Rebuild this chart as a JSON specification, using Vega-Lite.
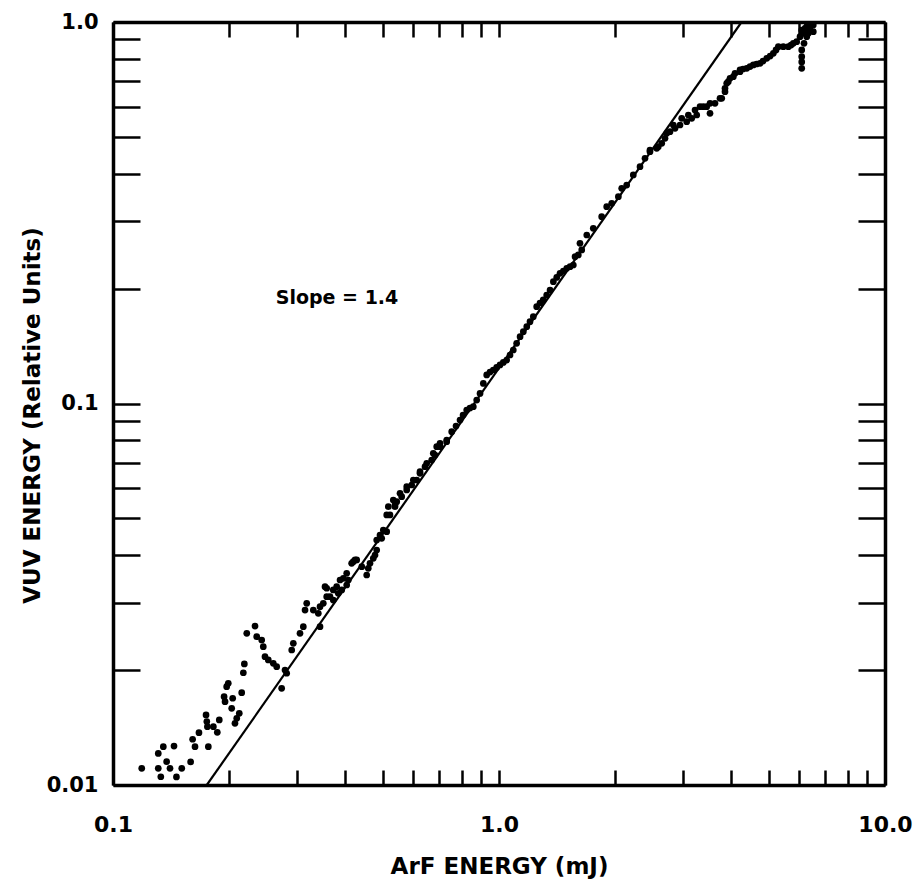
{
  "$schema": "https://vega.github.io/schema/vega-lite/v6.json",
  "width": 772,
  "height": 763,
  "autosize": {"type": "none"},
  "padding": {"left": 113, "top": 22, "right": 31, "bottom": 101},
  "background": "white",
  "config": {
    "view": {"stroke": null},
    "font": "DejaVu Sans",
    "axis": {
      "grid": false,
      "domainColor": "black",
      "tickColor": "black",
      "labelColor": "black",
      "titleColor": "black",
      "domainWidth": 3.5,
      "tickWidth": 2.5,
      "labelFont": "DejaVu Sans",
      "titleFont": "DejaVu Sans",
      "labelFontSize": 22,
      "labelFontWeight": "bold",
      "titleFontSize": 23,
      "titleFontWeight": "bold",
      "labelFlush": false,
      "labelOverlap": false,
      "labelBound": false
    }
  },
  "datasets": {
    "pts": [
      {"x": 0.1187, "y": 0.01106}, {"x": 0.131, "y": 0.01106}, {"x": 0.133, "y": 0.01051}, {"x": 0.146, "y": 0.0105},
      {"x": 0.1405, "y": 0.01106}, {"x": 0.1507, "y": 0.01106}, {"x": 0.1377, "y": 0.01151}, {"x": 0.131, "y": 0.0121},
      {"x": 0.135, "y": 0.0126}, {"x": 0.1439, "y": 0.01265}, {"x": 0.1589, "y": 0.0115}, {"x": 0.1608, "y": 0.01318},
      {"x": 0.1631, "y": 0.0126}, {"x": 0.167, "y": 0.01371}, {"x": 0.1766, "y": 0.0126}, {"x": 0.1742, "y": 0.01526},
      {"x": 0.175, "y": 0.01466}, {"x": 0.1756, "y": 0.01422}, {"x": 0.182, "y": 0.01422}, {"x": 0.1863, "y": 0.01374},
      {"x": 0.1885, "y": 0.01481}, {"x": 0.197, "y": 0.0181}, {"x": 0.194, "y": 0.01704}, {"x": 0.1951, "y": 0.01653},
      {"x": 0.1989, "y": 0.01848}, {"x": 0.2042, "y": 0.01688}, {"x": 0.203, "y": 0.01589}, {"x": 0.207, "y": 0.01451},
      {"x": 0.2092, "y": 0.01496}, {"x": 0.2124, "y": 0.01541}, {"x": 0.2155, "y": 0.01746}, {"x": 0.2176, "y": 0.01969},
      {"x": 0.2189, "y": 0.02076}, {"x": 0.2221, "y": 0.02498}, {"x": 0.2333, "y": 0.0261}, {"x": 0.2357, "y": 0.02448},
      {"x": 0.2428, "y": 0.02399}, {"x": 0.2451, "y": 0.02304}, {"x": 0.2476, "y": 0.02169}, {"x": 0.2525, "y": 0.02127},
      {"x": 0.2602, "y": 0.02084}, {"x": 0.2655, "y": 0.02042}, {"x": 0.2735, "y": 0.01792}, {"x": 0.279, "y": 0.02002},
      {"x": 0.2818, "y": 0.01963}, {"x": 0.2904, "y": 0.02259}, {"x": 0.2932, "y": 0.02352}, {"x": 0.3051, "y": 0.02498},
      {"x": 0.3112, "y": 0.026}, {"x": 0.3144, "y": 0.02875}, {"x": 0.3176, "y": 0.02994}, {"x": 0.3303, "y": 0.02875},
      {"x": 0.3403, "y": 0.02818}, {"x": 0.3438, "y": 0.026}, {"x": 0.3438, "y": 0.02934}, {"x": 0.3506, "y": 0.02994},
      {"x": 0.3578, "y": 0.03279}, {"x": 0.3649, "y": 0.03116}, {"x": 0.3721, "y": 0.03054}, {"x": 0.3834, "y": 0.03181},
      {"x": 0.3913, "y": 0.03245}, {"x": 0.4031, "y": 0.03344}, {"x": 0.407, "y": 0.03446}, {"x": 0.4193, "y": 0.03849},
      {"x": 0.4279, "y": 0.03889}, {"x": 0.4542, "y": 0.03552}, {"x": 0.4585, "y": 0.03698}, {"x": 0.4724, "y": 0.03929},
      {"x": 0.4821, "y": 0.0413}, {"x": 0.4967, "y": 0.04433}, {"x": 0.5118, "y": 0.04613}, {"x": 0.5219, "y": 0.05104},
      {"x": 0.5377, "y": 0.05418},
      {"x": 0.3542, "y": 0.03311}, {"x": 0.3578, "y": 0.03116}, {"x": 0.3721, "y": 0.03245}, {"x": 0.3797, "y": 0.03311},
      {"x": 0.3874, "y": 0.03446}, {"x": 0.3951, "y": 0.03482}, {"x": 0.4031, "y": 0.03588}, {"x": 0.4152, "y": 0.03812},
      {"x": 0.4237, "y": 0.03889}, {"x": 0.441, "y": 0.03735}, {"x": 0.4632, "y": 0.03812}, {"x": 0.4773, "y": 0.04007},
      {"x": 0.4821, "y": 0.04387}, {"x": 0.4917, "y": 0.04521}, {"x": 0.5015, "y": 0.0466}, {"x": 0.5118, "y": 0.05104},
      {"x": 0.5168, "y": 0.05364}, {"x": 0.5377, "y": 0.05364}, {"x": 0.5433, "y": 0.05528}, {"x": 0.5597, "y": 0.05697},
      {"x": 0.5767, "y": 0.05934}, {"x": 0.5941, "y": 0.06114}, {"x": 0.6121, "y": 0.06301}, {"x": 0.6243, "y": 0.06561},
      {"x": 0.6432, "y": 0.06828}, {"x": 0.6693, "y": 0.0711}, {"x": 0.6827, "y": 0.07328}, {"x": 0.6897, "y": 0.07705},
      {"x": 0.7034, "y": 0.07864}, {"x": 0.732, "y": 0.0794},
      {"x": 0.5323, "y": 0.05585}, {"x": 0.5541, "y": 0.05816}, {"x": 0.5767, "y": 0.06053}, {"x": 0.5998, "y": 0.06301},
      {"x": 0.6243, "y": 0.06625}, {"x": 0.6497, "y": 0.0697}, {"x": 0.6757, "y": 0.07405}, {"x": 0.7034, "y": 0.07705},
      {"x": 0.732, "y": 0.08021}, {"x": 0.7542, "y": 0.08435}, {"x": 0.7738, "y": 0.0873}, {"x": 0.7925, "y": 0.0905},
      {"x": 0.807, "y": 0.0933}, {"x": 0.8247, "y": 0.09616}, {"x": 0.841, "y": 0.0973}, {"x": 0.8579, "y": 0.0981},
      {"x": 0.8754, "y": 0.1021}, {"x": 0.893, "y": 0.1063}, {"x": 0.9107, "y": 0.1129}, {"x": 0.9292, "y": 0.1188},
      {"x": 0.9478, "y": 0.1209}, {"x": 0.9665, "y": 0.1224}, {"x": 0.986, "y": 0.1243}, {"x": 1.006, "y": 0.1262},
      {"x": 1.026, "y": 0.1281}, {"x": 1.047, "y": 0.13}, {"x": 1.068, "y": 0.134}, {"x": 1.089, "y": 0.1381},
      {"x": 1.111, "y": 0.1438}, {"x": 1.134, "y": 0.1497}, {"x": 1.156, "y": 0.1543}, {"x": 1.18, "y": 0.159},
      {"x": 1.203, "y": 0.1639}, {"x": 1.227, "y": 0.1689}, {"x": 1.252, "y": 0.1794}, {"x": 1.277, "y": 0.1834},
      {"x": 1.302, "y": 0.1868}, {"x": 1.329, "y": 0.1925}, {"x": 1.356, "y": 0.1984}, {"x": 1.383, "y": 0.2086},
      {"x": 1.411, "y": 0.214}, {"x": 1.439, "y": 0.2194}, {"x": 1.468, "y": 0.2225}, {"x": 1.498, "y": 0.2262},
      {"x": 1.528, "y": 0.2284}, {"x": 1.558, "y": 0.2307}, {"x": 1.605, "y": 0.2451}, {"x": 1.638, "y": 0.2526},
      {"x": 1.574, "y": 0.2426}, {"x": 1.621, "y": 0.263}, {"x": 1.688, "y": 0.2765}, {"x": 1.755, "y": 0.2879},
      {"x": 1.845, "y": 0.3088}, {"x": 1.901, "y": 0.3281}, {"x": 1.959, "y": 0.3348}, {"x": 2.038, "y": 0.3484},
      {"x": 2.079, "y": 0.3665}, {"x": 2.142, "y": 0.3738}, {"x": 2.228, "y": 0.3972}, {"x": 2.319, "y": 0.4176},
      {"x": 2.389, "y": 0.4393}, {"x": 2.461, "y": 0.4571}, {"x": 2.562, "y": 0.4666}, {"x": 2.64, "y": 0.4809},
      {"x": 2.692, "y": 0.4956}, {"x": 2.773, "y": 0.5157}, {"x": 2.858, "y": 0.5264}, {"x": 2.944, "y": 0.537},
      {"x": 3.064, "y": 0.5479}, {"x": 3.157, "y": 0.5592}, {"x": 3.253, "y": 0.5704}, {"x": 3.383, "y": 0.5998},
      {"x": 3.521, "y": 0.6122}, {"x": 3.627, "y": 0.6122}, {"x": 3.776, "y": 0.631}, {"x": 3.85, "y": 0.6703},
      {"x": 3.926, "y": 0.6975}, {"x": 4.046, "y": 0.7189}, {"x": 4.211, "y": 0.741},
      {"x": 2.461, "y": 0.4618}, {"x": 2.586, "y": 0.471}, {"x": 2.72, "y": 0.5108}, {"x": 2.829, "y": 0.537},
      {"x": 2.974, "y": 0.5592}, {"x": 3.094, "y": 0.5704}, {"x": 3.22, "y": 0.5879}, {"x": 3.317, "y": 0.5998},
      {"x": 3.452, "y": 0.5998}, {"x": 3.521, "y": 0.5763}, {"x": 3.737, "y": 0.631}, {"x": 3.85, "y": 0.6567},
      {"x": 3.89, "y": 0.6907}, {"x": 3.967, "y": 0.7119}, {"x": 4.087, "y": 0.7338}, {"x": 4.211, "y": 0.7487},
      {"x": 4.287, "y": 0.753}, {"x": 4.383, "y": 0.7563}, {"x": 4.47, "y": 0.764}, {"x": 4.56, "y": 0.7716},
      {"x": 4.65, "y": 0.776}, {"x": 4.746, "y": 0.7794}, {"x": 4.83, "y": 0.79}, {"x": 4.939, "y": 0.8033},
      {"x": 5.04, "y": 0.814}, {"x": 5.137, "y": 0.8279}, {"x": 5.22, "y": 0.845}, {"x": 5.293, "y": 0.8615},
      {"x": 5.452, "y": 0.8615}, {"x": 5.618, "y": 0.8615}, {"x": 5.71, "y": 0.87}, {"x": 5.787, "y": 0.8795},
      {"x": 5.905, "y": 0.888}, {"x": 6.023, "y": 0.915}, {"x": 6.085, "y": 0.9528}, {"x": 6.205, "y": 0.9627},
      {"x": 6.329, "y": 0.9342}, {"x": 6.393, "y": 0.9528}, {"x": 6.52, "y": 0.9432}, {"x": 6.27, "y": 0.972},
      {"x": 6.142, "y": 0.9342}, {"x": 6.085, "y": 0.845}, {"x": 6.085, "y": 0.8111}, {"x": 6.085, "y": 0.786},
      {"x": 6.085, "y": 0.7563}, {"x": 6.169, "y": 0.8795}, {"x": 6.27, "y": 0.915}, {"x": 6.393, "y": 0.972},
      {"x": 6.52, "y": 0.982}
    ],
    "fit": [
      {"x": 0.175, "y": 0.01},
      {"x": 4.25, "y": 1.0}
    ],
    "note": [
      {"x": 0.264, "y": 0.182, "label": "Slope = 1.4"}
    ]
  },
  "layer": [
    {
      "data": {"name": "pts"},
      "mark": {"type": "circle", "color": "black", "size": 45, "opacity": 1},
      "encoding": {
        "x": {
          "field": "x", "type": "quantitative",
          "scale": {"type": "log", "domain": [0.1, 10], "nice": false},
          "axis": {
            "orient": "bottom",
            "values": [0.1, 0.2, 0.3, 0.4, 0.5, 0.6, 0.7, 0.8, 0.9, 1, 2, 3, 4, 5, 6, 7, 8, 9, 10],
            "labelExpr": "datum.value == 0.1 ? '0.1' : datum.value == 1 ? '1.0' : datum.value == 10 ? '10.0' : ''",
            "tickSize": -15,
            "labelPadding": 44,
            "title": "ArF ENERGY (mJ)",
            "titlePadding": 20
          }
        },
        "y": {
          "field": "y", "type": "quantitative",
          "scale": {"type": "log", "domain": [0.01, 1], "nice": false},
          "axis": {
            "orient": "left",
            "values": [0.01, 0.02, 0.03, 0.04, 0.05, 0.06, 0.07, 0.08, 0.09, 0.1, 0.2, 0.3, 0.4, 0.5, 0.6, 0.7, 0.8, 0.9, 1],
            "labelExpr": "datum.value == 0.01 ? '0.01' : datum.value == 0.1 ? '0.1' : datum.value == 1 ? '1.0' : ''",
            "labelFontSize": 21,
            "tickSize": -27,
            "labelPadding": 42,
            "title": "VUV ENERGY (Relative Units)",
            "titlePadding": 2,
            "titleY": 393
          }
        }
      }
    },
    {
      "data": {"name": "fit"},
      "mark": {"type": "line", "color": "black", "strokeWidth": 2.2, "clip": true},
      "encoding": {
        "x": {
          "field": "x", "type": "quantitative",
          "scale": {"type": "log", "domain": [0.1, 10], "nice": false},
          "axis": {
            "orient": "top",
            "values": [0.1, 0.2, 0.3, 0.4, 0.5, 0.6, 0.7, 0.8, 0.9, 1, 2, 3, 4, 5, 6, 7, 8, 9, 10],
            "labels": false,
            "tickSize": -15,
            "title": null
          }
        },
        "y": {
          "field": "y", "type": "quantitative",
          "scale": {"type": "log", "domain": [0.01, 1], "nice": false},
          "axis": {
            "orient": "right",
            "values": [0.01, 0.02, 0.03, 0.04, 0.05, 0.06, 0.07, 0.08, 0.09, 0.1, 0.2, 0.3, 0.4, 0.5, 0.6, 0.7, 0.8, 0.9, 1],
            "labels": false,
            "tickSize": -27,
            "title": null
          }
        }
      }
    },
    {
      "data": {"name": "note"},
      "mark": {"type": "text", "align": "left", "baseline": "alphabetic", "fontSize": 19, "fontWeight": "bold", "font": "DejaVu Sans", "color": "black"},
      "encoding": {
        "x": {"field": "x", "type": "quantitative", "scale": {"type": "log", "domain": [0.1, 10], "nice": false}, "axis": null},
        "y": {"field": "y", "type": "quantitative", "scale": {"type": "log", "domain": [0.01, 1], "nice": false}, "axis": null},
        "text": {"field": "label"}
      }
    }
  ],
  "resolve": {"axis": {"x": "independent", "y": "independent"}}
}
